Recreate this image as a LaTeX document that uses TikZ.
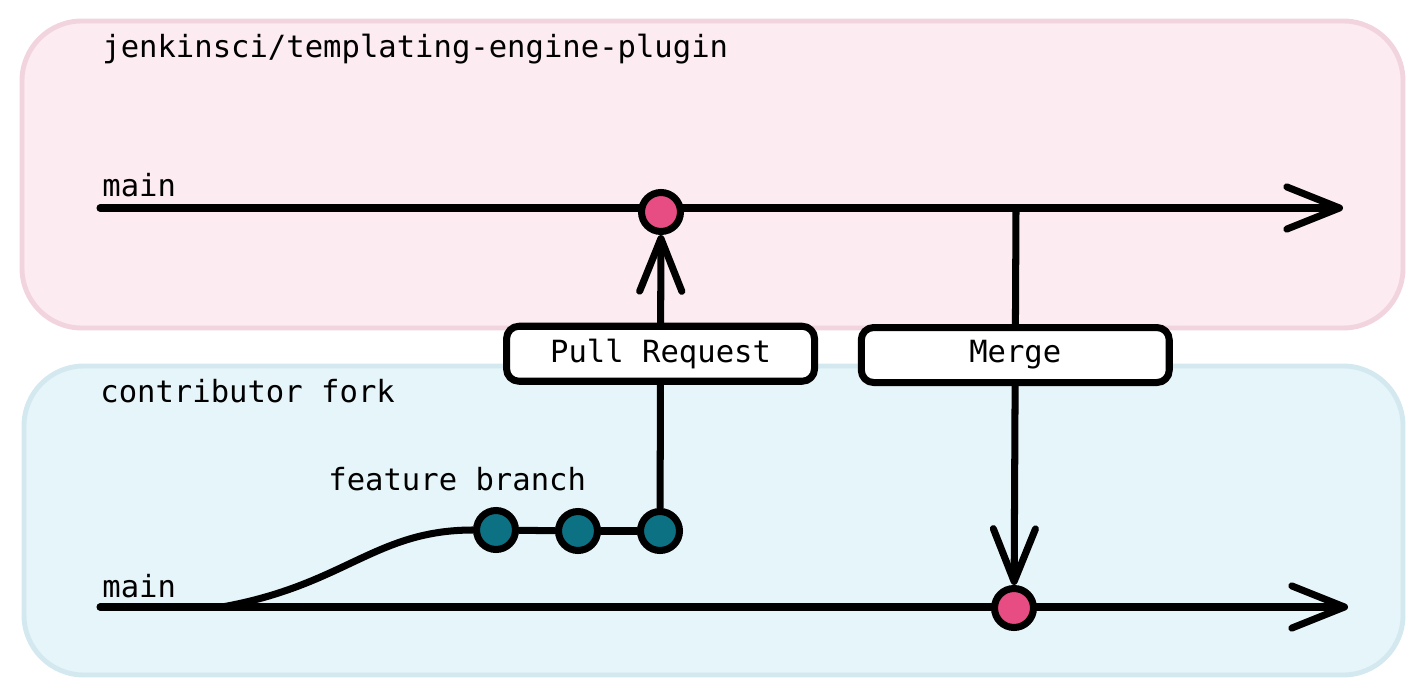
\documentclass[tikz,border=0pt]{standalone}
\usepackage{fontspec}
\setmonofont{DejaVu Sans Mono}
\usetikzlibrary{arrows.meta,shapes}
\usepackage{xcolor}
\definecolor{upfill}{HTML}{FCEBF1}
\definecolor{updraw}{HTML}{F2D4DF}
\definecolor{forkfill}{HTML}{E5F5F9}
\definecolor{forkdraw}{HTML}{D4E9EF}
\definecolor{prcommit}{HTML}{E74C82}
\definecolor{ftcommit}{HTML}{0D7184}

\begin{document}
\begin{tikzpicture}[x=0.02cm,y=-0.02cm,
        every node/.style={font=\ttfamily\fontsize{17.4}{20}\selectfont},
        repo/.style={line width=2.8pt,rounded corners=34pt},
        branch/.style={line width=4pt,line cap=round,line join=round},
        flow/.style={branch,-{Straight Barb[length=30pt,width=24pt,round]}},
        commit/.style={draw,circle,line width=4pt,minimum size=0.78cm,inner sep=0pt},
        action/.style={draw,fill=white,rectangle,rounded corners=7pt,line width=4pt,
            minimum height=1.1cm,minimum width=6.16cm}]
        \useasboundingbox (0,0) rectangle (1425,695);

        % repositories
        \path[draw=updraw,fill=upfill,repo] (22,21) rectangle (1403,328);
        \path[draw=forkdraw,fill=forkfill,repo] (24,366) rectangle (1403,675);
        \node[anchor=base west,inner sep=0] (upname) at (102,58) {jenkinsci/templating-engine-plugin};
        \node[anchor=base west,inner sep=0] (forkname) at (100,402) {contributor fork};

        % main branches
        \coordinate (upstart) at (100,208);
        \coordinate (upend) at (1343,208);
        \coordinate (forkstart) at (100,607);
        \coordinate (forkend) at (1348,607);
        \coordinate (branchout) at (222,607);
        \coordinate (mergeout) at (1016,208);
        \node[anchor=base west,inner sep=0] (upmain) at (102,197) {main};
        \node[anchor=base west,inner sep=0] (forkmain) at (102,597) {main};
        \path[draw,flow] (upstart) -- (upend);
        \path[draw,flow] (forkstart) -- (forkend);

        % commits
        \node[commit,fill=prcommit] (upcommit) at (661,212) {};
        \node[commit,fill=prcommit] (mergecommit) at (1014,608) {};
        \node[commit,fill=ftcommit] (feat1) at (496,530) {};
        \node[commit,fill=ftcommit] (feat2) at (578,531) {};
        \node[commit,fill=ftcommit] (feat3) at (660,531) {};
        \node[anchor=base west,inner sep=0] (featname) at (328,490) {feature branch};

        % feature branch
        \path[draw,branch] (branchout) .. controls (345,585) and (375,530) .. (feat1);
        \path[draw,branch] (feat1) -- (feat2);
        \path[draw,branch] (feat2) -- (feat3);

        % pull request and merge
        \path[draw,flow] (feat3) -- node[action,pos=0.565] (pullrequest) {Pull Request} (upcommit);
        \path[draw,flow] (mergeout) -- node[action,pos=0.39] (merge) {Merge} (mergecommit);
\end{tikzpicture}
\end{document}
